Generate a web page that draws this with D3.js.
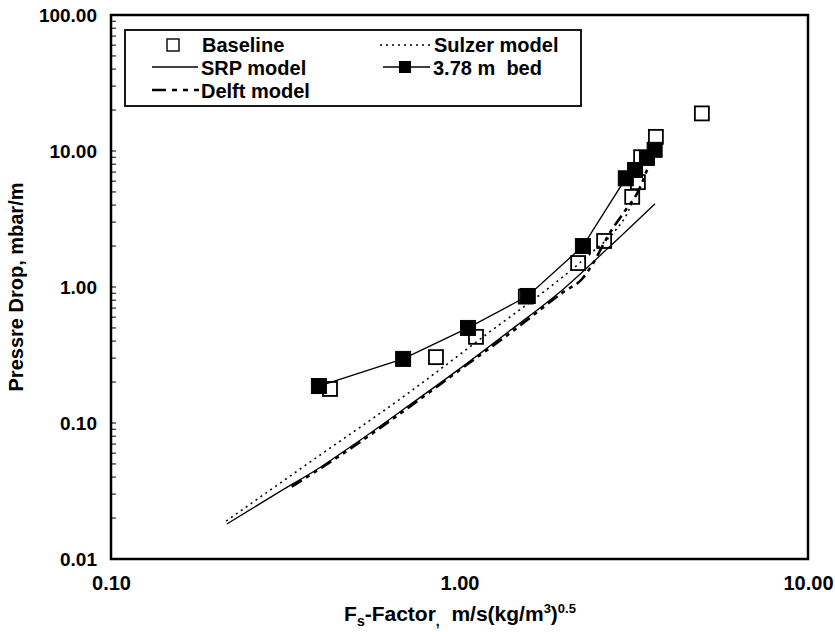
<!DOCTYPE html>
<html>
<head>
<meta charset="utf-8">
<script src="https://cdn.jsdelivr.net/npm/d3@7"></script>
<style>
  html, body { margin: 0; padding: 0; background: #fff; }
  svg { display: block; font-family: "Liberation Sans", Arial, sans-serif; }
  text { white-space: pre; }
</style>
</head>
<body>
<svg id="chart" width="835" height="632"></svg>
<script>
// ---- data ----
const baselineX = [0.425, 0.856, 1.115, 1.55, 2.19, 2.60, 3.13, 3.25, 3.32, 3.66, 4.96];
const baselineY = [0.178, 0.305, 0.43, 0.85, 1.50, 2.18, 4.6, 5.9, 9.0, 12.7, 18.9];

const bedX = [0.395, 0.689, 1.058, 1.57, 2.26, 3.00, 3.19, 3.45, 3.63];
const bedY = [0.187, 0.296, 0.50, 0.859, 2.00, 6.3, 7.25, 8.9, 10.2];

const srpX = [0.215, 0.30, 0.40, 0.50, 0.72, 1.00, 1.40, 2.00, 2.65, 3.64];
const srpY = [0.0181, 0.0305, 0.0475, 0.070, 0.136, 0.25, 0.48, 0.98, 1.9, 4.1];

const sulzerX = [0.214, 0.37, 0.72, 1.22, 1.80, 2.40, 2.80, 3.05, 3.15];
const sulzerY = [0.019, 0.051, 0.169, 0.467, 0.98, 1.8, 2.6, 3.6, 4.4];

const delftX = [0.33, 0.50, 0.72, 1.00, 1.40, 2.00, 2.25, 2.40, 2.70, 3.00, 3.25, 3.50];
const delftY = [0.034, 0.068, 0.132, 0.245, 0.46, 0.93, 1.15, 1.45, 2.5, 3.7, 5.0, 8.0];

const xTickValues = [0.1, 1, 10];
const xTickLabels = ["0.10", "1.00", "10.00"];
const yTickValues = [0.01, 0.1, 1, 10, 100];
const yTickLabels = ["0.01", "0.10", "1.00", "10.00", "100.00"];

const legendNames = ["Baseline", "Sulzer model", "SRP model", "3.78 m  bed", "Delft model"];

// ---- layout ----
const L = 111, R = 808, T = 15, B = 559;
const svg = d3.select("#chart");

const x = d3.scaleLog().domain([0.1, 10]).range([L, R]);
const y = d3.scaleLog().domain([0.01, 100]).range([B, T]);

const zip = (a, b) => a.map((v, i) => [v, b[i]]);
const line = d3.line().x(d => x(d[0])).y(d => y(d[1]));

// y minor ticks (inside)
const yMinor = [];
for (let e = -2; e < 2; e++) for (let k = 1; k <= 9; k++) yMinor.push(k * Math.pow(10, e));
yMinor.push(100);
svg.append("g").selectAll("line").data(yMinor).join("line")
  .attr("x1", L).attr("x2", L + 5)
  .attr("y1", d => y(d)).attr("y2", d => y(d))
  .attr("stroke", "#000").attr("stroke-width", 1);

// y axis labels
const yAxis = d3.axisLeft(y).tickValues(yTickValues)
  .tickFormat((d, i) => yTickLabels[i]).tickSize(0).tickPadding(14);
const gy = svg.append("g").attr("transform", `translate(${L},0)`).call(yAxis);
gy.select(".domain").remove();
gy.selectAll("text").attr("font-size", 19).attr("font-weight", "bold")
  .attr("font-family", '"Liberation Sans", Arial, sans-serif').attr("fill", "#000");

// x axis labels
const xAxis = d3.axisBottom(x).tickValues(xTickValues)
  .tickFormat((d, i) => xTickLabels[i]).tickSize(0).tickPadding(17);
const gx = svg.append("g").attr("transform", `translate(0,${B})`).call(xAxis);
gx.select(".domain").remove();
gx.selectAll("text").attr("font-size", 20).attr("font-weight", "bold")
  .attr("font-family", '"Liberation Sans Narrow", "Arial Narrow", "Liberation Sans", sans-serif').attr("fill", "#000");

// frame
svg.append("rect").attr("x", L).attr("y", T).attr("width", R - L).attr("height", B - T)
  .attr("fill", "none").attr("stroke", "#000").attr("stroke-width", 2.5);

// baseline open squares
const sq = 14;
svg.append("g").selectAll("rect").data(zip(baselineX, baselineY)).join("rect")
  .attr("x", d => x(d[0]) - sq / 2).attr("y", d => y(d[1]) - sq / 2)
  .attr("width", sq).attr("height", sq)
  .attr("fill", "none").attr("stroke", "#000").attr("stroke-width", 1.8);

// model lines
svg.append("path").datum(zip(srpX, srpY)).attr("d", line.curve(d3.curveMonotoneX))
  .attr("fill", "none").attr("stroke", "#000").attr("stroke-width", 1.3);
svg.append("path").datum(zip(sulzerX, sulzerY)).attr("d", line.curve(d3.curveMonotoneX))
  .attr("fill", "none").attr("stroke", "#000").attr("stroke-width", 1.6)
  .attr("stroke-dasharray", "2,4");
svg.append("path").datum(zip(delftX, delftY)).attr("d", line.curve(d3.curveMonotoneX))
  .attr("fill", "none").attr("stroke", "#000").attr("stroke-width", 2.6)
  .attr("stroke-dasharray", "12,5,4,5,4,5");

// bed series
svg.append("path").datum(zip(bedX, bedY)).attr("d", line.curve(d3.curveLinear))
  .attr("fill", "none").attr("stroke", "#000").attr("stroke-width", 1.3);
const bsq = 15;
svg.append("g").selectAll("rect").data(zip(bedX, bedY)).join("rect")
  .attr("x", d => x(d[0]) - bsq / 2).attr("y", d => y(d[1]) - bsq / 2)
  .attr("width", bsq).attr("height", bsq)
  .attr("fill", "#000").attr("stroke", "#000").attr("stroke-width", 1);

// legend
const lg = svg.append("g");
lg.append("rect").attr("x", 125).attr("y", 30).attr("width", 456).attr("height", 76)
  .attr("fill", "#fff").attr("stroke", "#000").attr("stroke-width", 1.8);
const lt = (tx, ty, s) => lg.append("text").attr("x", tx).attr("y", ty).text(s)
  .attr("font-size", 20).attr("font-weight", "bold").attr("fill", "#000");
// Baseline
lg.append("rect").attr("x", 167).attr("y", 39).attr("width", 12).attr("height", 12)
  .attr("fill", "none").attr("stroke", "#000").attr("stroke-width", 1.4);
lt(202, 52, legendNames[0]);
// Sulzer
lg.append("line").attr("x1", 380).attr("x2", 432).attr("y1", 45).attr("y2", 45)
  .attr("stroke", "#000").attr("stroke-width", 1.6).attr("stroke-dasharray", "2,4");
lt(434, 52, legendNames[1]);
// SRP
lg.append("line").attr("x1", 152).attr("x2", 198).attr("y1", 67).attr("y2", 67)
  .attr("stroke", "#000").attr("stroke-width", 1.3);
lt(201, 75, legendNames[2]);
// bed
lg.append("line").attr("x1", 383).attr("x2", 430).attr("y1", 67).attr("y2", 67)
  .attr("stroke", "#000").attr("stroke-width", 1.3);
lg.append("rect").attr("x", 399).attr("y", 61).attr("width", 12).attr("height", 12)
  .attr("fill", "#000");
lt(433, 75, legendNames[3]);
// Delft
lg.append("line").attr("x1", 152).attr("x2", 199).attr("y1", 90).attr("y2", 90)
  .attr("stroke", "#000").attr("stroke-width", 2.6).attr("stroke-dasharray", "14,6,5,6,5,6");
lt(201, 98, legendNames[4]);

// axis titles
svg.append("text").attr("transform", "translate(23,287) rotate(-90)")
  .attr("text-anchor", "middle").attr("font-size", 20).attr("font-weight", "bold")
  .text("Pressre Drop, mbar/m");

const xt = svg.append("text").attr("x", 460).attr("y", 621).attr("text-anchor", "middle")
  .attr("font-size", 21).attr("font-weight", "bold")
  .attr("font-family", '"Liberation Sans Narrow", "Arial Narrow", "Liberation Sans", sans-serif');
xt.append("tspan").text("F");
xt.append("tspan").attr("font-size", 14).attr("dy", 5).text("s");
xt.append("tspan").attr("dy", -5).text("-Factor");
xt.append("tspan").attr("font-size", 14).attr("dy", 5).text(",");
xt.append("tspan").attr("dy", -5).text("  m/s(kg/m");
xt.append("tspan").attr("font-size", 13).attr("dy", -8).text("3");
xt.append("tspan").attr("dy", 8).text(")");
xt.append("tspan").attr("font-size", 13).attr("dy", -8).text("0.5");
</script>
</body>
</html>
